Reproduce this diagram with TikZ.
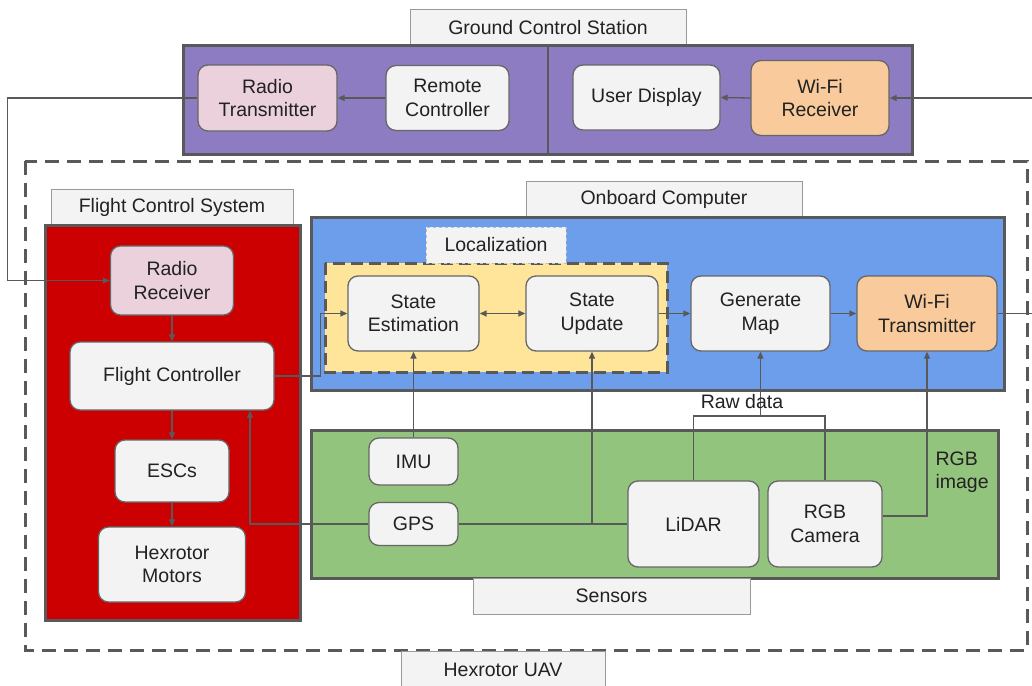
\documentclass[tikz,border=0pt]{standalone}
\usepackage{fontspec}
\setmainfont{Liberation Sans}
\usetikzlibrary{arrows.meta,calc}
\definecolor{gcs}{HTML}{8E7CC3}
\definecolor{fcs}{HTML}{CC0000}
\definecolor{obc}{HTML}{6D9EEB}
\definecolor{loc}{HTML}{FFE599}
\definecolor{sen}{HTML}{93C47D}
\definecolor{pinkfill}{HTML}{EAD1DC}
\definecolor{orangefill}{HTML}{F9CB9C}
\definecolor{boxfill}{HTML}{F3F3F3}
\definecolor{edge}{HTML}{595959}
\definecolor{boxedge}{HTML}{666666}
\definecolor{tagedge}{HTML}{999999}
\definecolor{ink}{HTML}{222222}
\tikzset{
  txt/.style={font=\fontsize{19.5}{23.5}\selectfont, text=ink, align=center},
  unit/.style={txt, draw=boxedge, line width=1.3pt, fill=boxfill,
    rounded corners=10pt, inner sep=0pt},
  tag/.style={txt, draw=tagedge, line width=1pt, fill=boxfill, inner sep=0pt},
  group/.style={draw=edge, line width=3pt},
  link/.style={draw=edge, line width=1.3pt},
  arr/.style={link, -{Triangle[length=7pt,width=6pt]}},
  darr/.style={link, {Triangle[length=7pt,width=6pt]}-{Triangle[length=7pt,width=6pt]}},
}
\begin{document}
\begin{tikzpicture}[x=1pt,y=-1pt]
\clip (0,0) rectangle (1032,685);
\fill[white] (0,0) rectangle (1032,685);

% ---------------- Ground Control Station ----------------
\node[tag, minimum width=276, minimum height=36] (gcstag) at (548,28) {Ground Control Station};
\filldraw[group, fill=gcs] (183,46) rectangle (912,154);
\draw[link] (548,46) -- (548,154);
\node[unit, fill=pinkfill, minimum width=139, minimum height=66] (rt) at (267.5,98) {Radio\\Transmitter};
\node[unit, minimum width=123, minimum height=65] (rc) at (447.5,98) {Remote\\Controller};
\node[unit, minimum width=147, minimum height=65] (ud) at (646.5,97.5) {User Display};
\node[unit, fill=orangefill, minimum width=138, minimum height=75] (wr) at (820,98) {Wi-Fi\\Receiver};

% ---------------- Hexrotor UAV ----------------
\draw[group, dash pattern=on 14pt off 8pt] (25,161) rectangle (1027,650);
\node[tag, minimum width=204, minimum height=38] (uavtag) at (503,670) {Hexrotor UAV};

% Flight Control System
\node[tag, minimum width=242, minimum height=36] (fcstag) at (172,207) {Flight Control System};
\filldraw[group, fill=fcs] (45,225) rectangle (300,620);
\node[unit, fill=pinkfill, minimum width=123, minimum height=69] (rr) at (172,280.5) {Radio\\Receiver};
\node[unit, minimum width=204, minimum height=68] (fc) at (172,376) {Flight Controller};
\node[unit, minimum width=114, minimum height=62] (esc) at (172,471) {ESCs};
\node[unit, minimum width=147, minimum height=75] (mot) at (172,564.5) {Hexrotor\\Motors};

% Onboard Computer
\node[tag, minimum width=276, minimum height=37] (obctag) at (664,199.5) {Onboard Computer};
\filldraw[group, fill=obc] (311,217) rectangle (1004,390);
\filldraw[group, fill=loc, dash pattern=on 12pt off 6pt] (325,263) rectangle (667,372);
\node[tag, draw=white!75!black, dashed, minimum width=140, minimum height=36] (loctag) at (496,245) {Localization};
\node[unit, minimum width=131, minimum height=75] (se) at (413.5,313.5) {State\\Estimation};
\node[unit, minimum width=132, minimum height=75] (su) at (592,313.5) {State\\Update};
\node[unit, minimum width=139, minimum height=75] (gm) at (760.5,313.5) {Generate\\Map};
\node[unit, fill=orangefill, minimum width=140, minimum height=75] (wt) at (927,313.5) {Wi-Fi\\Transmitter};

% Sensors
\filldraw[group, fill=sen] (311,430) rectangle (998,578);
\node[tag, minimum width=277, minimum height=36] (sentag) at (611.5,596) {Sensors};
\node[unit, minimum width=89, minimum height=47] (imu) at (413.5,461.5) {IMU};
\node[unit, minimum width=89, minimum height=43] (gps) at (413.5,524) {GPS};
\node[unit, minimum width=131, minimum height=86] (lidar) at (693.5,524) {LiDAR};
\node[unit, minimum width=114, minimum height=86] (rgb) at (825,524) {RGB\\Camera};

% ---------------- Connections ----------------
\coordinate (wifiin) at (1032,98);
\coordinate (wifiout) at (1032,313.5);
\coordinate (rawj) at (760.5,416);

\draw[arr] (rc.west) -- (rt.east);
\draw[arr] (wr.west) -- (ud.east);
\draw[arr] (wifiin) -- (wr.east);
\draw[arr] (rt.west) -- ++(-190,0) |- (rr.west);

\draw[arr] (rr.south) -- (fc.north);
\draw[arr] (fc.south) -- (esc.north);
\draw[arr] (esc.south) -- (mot.north);
\draw[arr] (gps.west) -| ([xshift=78pt]fc.south);
\draw[arr] (fc.east) -- ++(46,0) |- (se.west);

\draw[arr] (imu.north) -- (se.south);
\draw[darr] (se.east) -- (su.west);
\draw[arr] (su.east) -- (gm.west);
\draw[arr] (gm.east) -- (wt.west);
\draw[link] (wt.east) -- (wifiout);

\draw[link] (gps.east) -- (lidar.west);
\draw[arr] (gps.east -| su.south) -- (su.south);
\draw[link] (lidar.north) |- (rawj) -| (rgb.north);
\draw[arr] (rawj) -- (gm.south);
\node[txt] (rawlbl) at (742,402) {Raw data};
\draw[arr] ([yshift=8pt]rgb.east) -| (wt.south);
\node[txt, align=left, anchor=west] (rgblbl) at (932,472) {RGB\\image};
\end{tikzpicture}
\end{document}
